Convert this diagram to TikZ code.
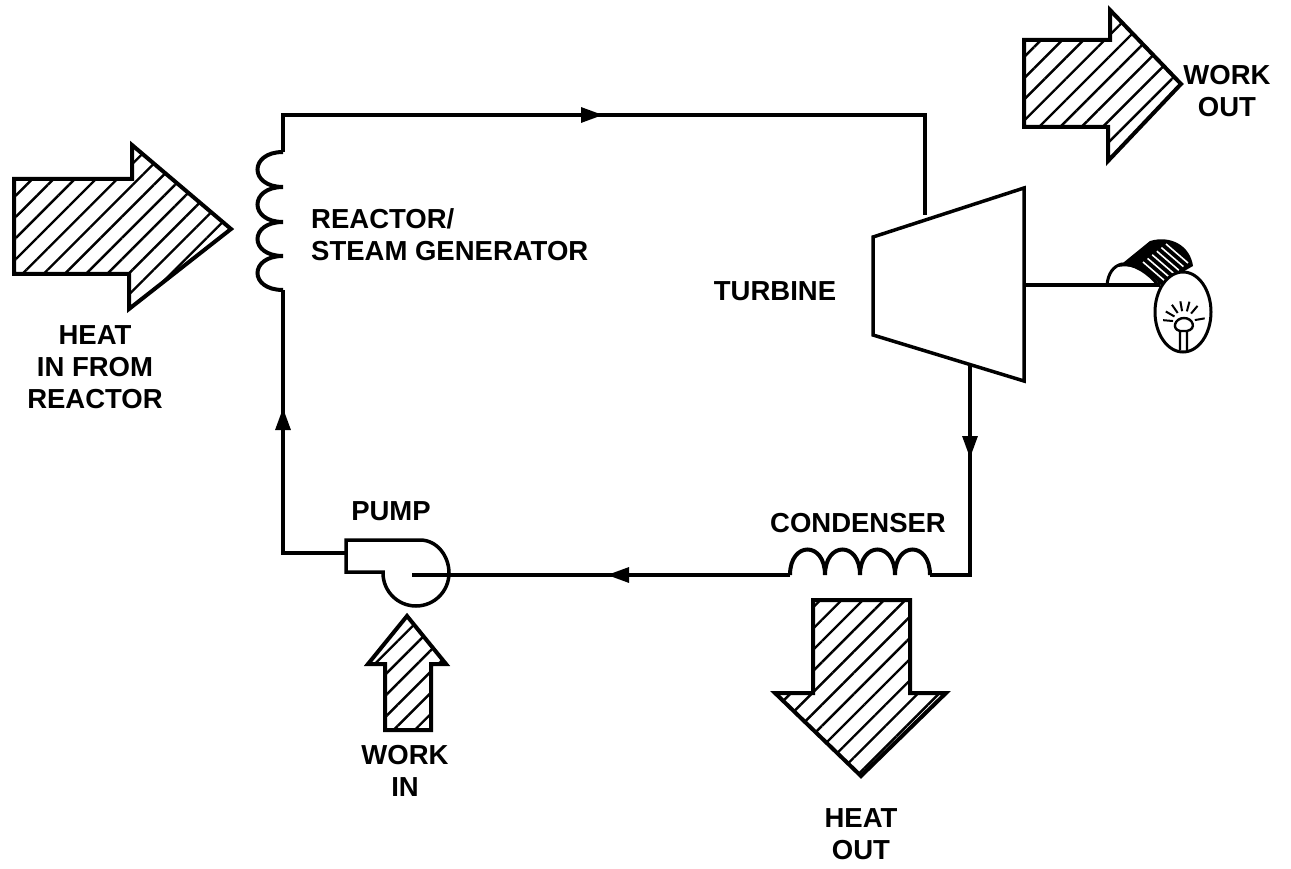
\documentclass[tikz,border=0pt]{standalone}
\usepackage{fontspec}
\setmainfont{Liberation Sans}
\usetikzlibrary{arrows.meta,patterns.meta}

\begin{document}
\begin{tikzpicture}[
  x=1pt, y=-1pt,
  lab/.style={font=\bfseries\fontsize{27.5}{32}\selectfont, align=center, inner sep=0pt},
  pipe/.style={line width=3.1pt, line join=miter},
  coil/.style={line width=4pt},
  flow/.style={pipe, -{Triangle[length=22pt, width=15pt]}},
  bigarrow/.style={line width=4pt, line join=miter,
    pattern={Lines[angle=45, distance=15pt, line width=2.4pt]}}]
\useasboundingbox (0,0) rectangle (1291,869);
% hatched heat and work arrows
\draw[bigarrow] (14,179) -- (132,179) -- (132,145) -- (231,229) -- (129,309) -- (129,274) -- (14,274) -- cycle;
\draw[bigarrow] (1024,40) -- (1110,40) -- (1110,10) -- (1181,84) -- (1108,161) -- (1108,127) -- (1024,127) -- cycle;
\draw[bigarrow] (813,600) -- (910,600) -- (910,693) -- (946,693) -- (861,776) -- (775,693) -- (813,693) -- cycle;
\draw[bigarrow] (385,730) -- (385,664) -- (368,664) -- (407,616) -- (446,664) -- (431,664) -- (431,730) -- cycle;
% turbine and its loop points
\draw[line width=3.5pt, line join=miter] (873,237) -- (1024,188) -- (1024,381) -- (873,335) -- cycle;
\coordinate (corner1) at (283,115);
\coordinate (corner2) at (925,115);
\coordinate (turbin) at (925,215);
\coordinate (turbout) at (970,366);
\coordinate (corner3) at (970,575);
\coordinate (corner4) at (283,553);
\coordinate (coiltop) at (283,152);
\coordinate (coilbot) at (283,290);
\coordinate (condin) at (930,575);
\coordinate (condout) at (790,575);
\coordinate (pumpin) at (412,575);
\coordinate (pumpout) at (346,553);
\coordinate (shaft) at (1024,285);
\coordinate (shaftend) at (1160,285);
% the loop, arrows halfway along
\draw[flow] (corner1) -- (603,115);
\draw[pipe] (coiltop) -- (corner1) -- (corner2) -- (turbin);
\draw[flow] (turbout) -- (970,458);
\draw[pipe] (turbout) -- (corner3) -- (condin);
\draw[flow] (condout) -- (607,575);
\draw[pipe] (condout) -- (pumpin);
\draw[flow] (corner4) -- (283,408);
\draw[pipe] (pumpout) -- (corner4) -- (coilbot);
% reactor coil
\draw[coil] (coiltop) .. controls (249,152) and (249,187) .. (283,187)
  .. controls (249,187) and (249,222) .. (283,222)
  .. controls (249,222) and (249,256) .. (283,256)
  .. controls (249,256) and (249,290) .. (coilbot);
% condenser coil
\draw[coil] (condout) .. controls (790,541) and (825,541) .. (825,575)
  .. controls (825,541) and (860,541) .. (860,575)
  .. controls (860,541) and (895,541) .. (895,575)
  .. controls (895,541) and (930,541) .. (condin);
% pump casing
\draw[line width=3.5pt] (346,572) -- (346,540) -- (420,540)
  .. controls (437,540) and (449,556) .. (449,573)
  arc[start angle=0, end angle=180, radius=33] -- (383,572) -- cycle;
% generator and lamp
\draw[pipe] (shaft) -- (shaftend);
\draw[line width=3pt] (1107,285) .. controls (1108,274) and (1113,266) .. (1122,264)
  .. controls (1134,264) and (1148,272) .. (1158,285);
\fill[black] (1118,267) -- (1150,241) .. controls (1170,235) and (1190,245) .. (1193,266)
  -- (1160,285) .. controls (1150,272) and (1134,264) .. (1118,267) -- cycle;
\foreach \d in {0,...,5}
  \draw[white, line width=1.6pt] (1143+\d*4.6,262-\d*3.6) -- (1165+\d*4.6,281-\d*3.6);
\draw[line width=3pt, fill=white] (1183,312) ellipse[x radius=28, y radius=40];
\draw[line width=2.4pt] (1180,350) -- (1180,331) (1187,350) -- (1187,331)
  (1180,331) .. controls (1171,329) and (1175,318) .. (1184,318)
  .. controls (1193,318) and (1197,329) .. (1187,331) -- cycle;
\foreach \a in {-175,-150,-125,-100,-75,-50,-10}
  \draw[line width=2pt] (1184,322) ++(\a:11) -- ++(\a:10);
% labels
\node[lab] (heatin) at (95,367) {HEAT\\IN FROM\\REACTOR};
\node[lab, anchor=west, align=left] (steam) at (311,235) {REACTOR/\\STEAM GENERATOR};
\node[lab] (turbine) at (775,291) {TURBINE};
\node[lab] (pump) at (391,511) {PUMP};
\node[lab] (condenser) at (858,523) {CONDENSER};
\node[lab] (workin) at (405,771) {WORK\\IN};
\node[lab] (heatout) at (861,834) {HEAT\\OUT};
\node[lab] (workout) at (1227,91) {WORK\\OUT};
\end{tikzpicture}
\end{document}
